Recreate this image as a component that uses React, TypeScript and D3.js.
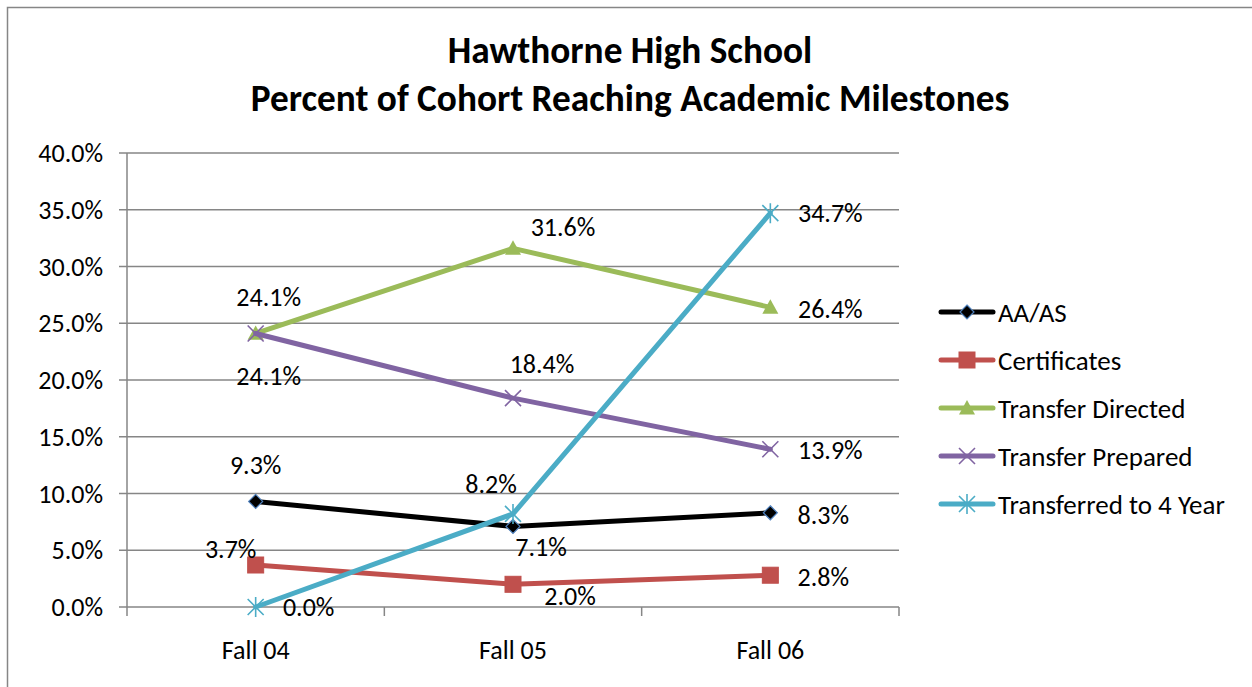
import React from "react";
import * as d3 from "d3";

const categories = ["Fall 04", "Fall 05", "Fall 06"];
const seriesNames = ["AA/AS", "Certificates", "Transfer Directed", "Transfer Prepared", "Transferred to 4 Year"];
const aaas = [9.3, 7.1, 8.3];
const certificates = [3.7, 2.0, 2.8];
const transferDirected = [24.1, 31.6, 26.4];
const transferPrepared = [24.1, 18.4, 13.9];
const transferred4 = [0.0, 8.2, 34.7];
const yTicks = [0, 5, 10, 15, 20, 25, 30, 35, 40];

const seriesValues = [aaas, certificates, transferDirected, transferPrepared, transferred4];
const colors = ["#000000", "#C0504D", "#9BBB59", "#8064A2", "#4BACC6"];
const markers = ["diamond", "square", "triangle", "x", "star"];
// label offsets (dx, dy) from each point, center of text
const labelOffsets = [
  [[0, -36], [28, 21], [53, 2]],
  [[-25, -16], [57, 12], [53, 2]],
  [[13, -36], [50, -21], [60, 2]],
  [[13, 43], [29, -34], [60, 1]],
  [[53, 0], [-22, -30], [60, 0]],
];

const W = 1252, H = 687;
const left = 127, right = 899, top = 153, bottom = 607;
const font = "Carlito, Calibri, Lato, 'Open Sans', sans-serif";
const fs = 26;

function Marker({ type, x, y, color }: { type: string; x: number; y: number; color: string }) {
  if (type === "diamond") {
    const s = 7;
    return <path d={`M${x},${y - s}L${x + s},${y}L${x},${y + s}L${x - s},${y}Z`} fill="#000" stroke="#4F81BD" strokeWidth={1.2} />;
  }
  if (type === "square") {
    const s = 8;
    return <rect x={x - s} y={y - s} width={2 * s} height={2 * s} fill={color} stroke={color} />;
  }
  if (type === "triangle") {
    const s = 8;
    return <path d={`M${x},${y - s}L${x + s},${y + s * 0.8}L${x - s},${y + s * 0.8}Z`} fill={color} />;
  }
  if (type === "x") {
    const s = 8;
    return <path d={`M${x - s},${y - s}L${x + s},${y + s}M${x + s},${y - s}L${x - s},${y + s}`} stroke={color} strokeWidth={1.6} />;
  }
  const s = 8;
  return <path d={`M${x - s},${y - s}L${x + s},${y + s}M${x + s},${y - s}L${x - s},${y + s}M${x},${y - s - 2}L${x},${y + s + 2}`} stroke={color} strokeWidth={1.6} />;
}

export default function App() {
  const x = d3.scaleBand().domain(categories).range([left, right]);
  const y = d3.scaleLinear().domain([0, 40]).range([bottom, top]);
  const cx = (c: string) => (x(c) as number) + x.bandwidth() / 2;
  const line = d3.line<[number, number]>().x((d) => d[0]).y((d) => d[1]);
  const fmt = (v: number) => v.toFixed(1) + "%";
  const boundaries = categories.map((c) => x(c) as number).concat([right]);

  return (
    <svg width={W} height={H} style={{ position: "absolute", left: 0, top: 0 }} fontFamily={font}>
      <rect x={0} y={0} width={W} height={H} fill="#fff" />
      <path d={`M7.5,${H + 2}V7.5H${W + 2}`} fill="none" stroke="#868686" strokeWidth={1.5} />
      <text x={630} y={50} textAnchor="middle" dominantBaseline="central" fontSize={37.3} fontWeight="bold">Hawthorne High School</text>
      <text x={630} y={98} textAnchor="middle" dominantBaseline="central" fontSize={37.3} fontWeight="bold">Percent of Cohort Reaching Academic Milestones</text>

      {yTicks.map((t) => (
        <g key={t}>
          <line x1={left - 8} x2={right} y1={y(t)} y2={y(t)} stroke="#868686" strokeWidth={1.5} />
          <text x={103} y={y(t)} textAnchor="end" dominantBaseline="central" fontSize={fs}>{t.toFixed(1) + "%"}</text>
        </g>
      ))}
      <line x1={left} x2={left} y1={top} y2={bottom} stroke="#868686" strokeWidth={1.5} />
      {boundaries.map((b, i) => (
        <line key={i} x1={b} x2={b} y1={bottom} y2={bottom + 9} stroke="#868686" strokeWidth={1.5} />
      ))}
      {categories.map((c) => (
        <text key={c} x={cx(c)} y={650} textAnchor="middle" dominantBaseline="central" fontSize={fs}>{c}</text>
      ))}

      {seriesValues.map((vals, si) => {
        const pts = vals.map((v, i) => [cx(categories[i]), y(v)] as [number, number]);
        return (
          <g key={si}>
            <path d={line(pts) || ""} fill="none" stroke={colors[si]} strokeWidth={5} strokeLinejoin="round" strokeLinecap="round" />
            {pts.map((p, i) => (
              <Marker key={i} type={markers[si]} x={p[0]} y={p[1]} color={colors[si]} />
            ))}
          </g>
        );
      })}
      {seriesValues.map((vals, si) =>
        vals.map((v, i) => (
          <text key={`${si}-${i}`} x={cx(categories[i]) + labelOffsets[si][i][0]} y={y(v) + labelOffsets[si][i][1]}
            textAnchor="middle" dominantBaseline="central" fontSize={fs}>{fmt(v)}</text>
        ))
      )}

      {seriesNames.map((n, i) => {
        const ly = 312 + i * 48;
        return (
          <g key={n}>
            <line x1={941} x2={993} y1={ly} y2={ly} stroke={colors[i]} strokeWidth={5} strokeLinecap="round" />
            <Marker type={markers[i]} x={967} y={ly} color={colors[i]} />
            <text x={998} y={ly} dominantBaseline="central" fontSize={27}>{n}</text>
          </g>
        );
      })}
    </svg>
  );
}
